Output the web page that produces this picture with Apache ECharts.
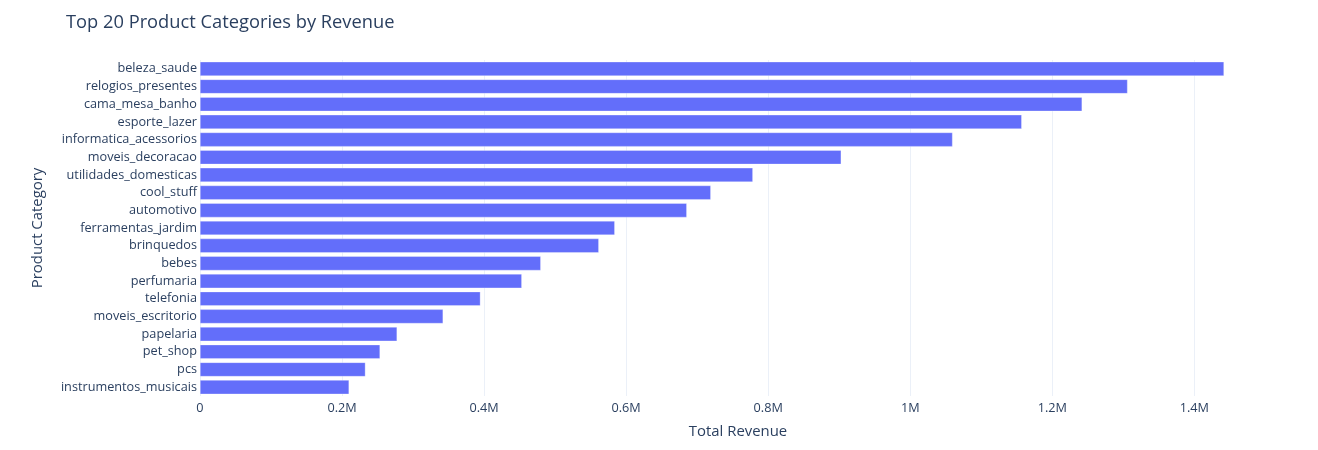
<!DOCTYPE html>
<html>
<head>
<meta charset="utf-8">
<script src="https://cdn.jsdelivr.net/npm/echarts@6/dist/echarts.min.js"></script>
<style>
  html, body { margin: 0; padding: 0; background: #fff; }
  #chart { width: 1318px; height: 450px; }
</style>
</head>
<body>
<div id="chart"></div>
<script>
// categories, top to bottom as shown
var categories = ['beleza_saude', 'relogios_presentes', 'cama_mesa_banho', 'esporte_lazer',
  'informatica_acessorios', 'moveis_decoracao', 'utilidades_domesticas', 'cool_stuff',
  'automotivo', 'ferramentas_jardim', 'brinquedos', 'bebes', 'perfumaria', 'telefonia',
  'moveis_escritorio', 'papelaria', 'pet_shop', 'pcs', 'instrumentos_musicais'];
// total revenue per category
var revenue = [1441800, 1306000, 1242000, 1157000, 1059600, 902800, 778400, 719200,
  685400, 584000, 561500, 479800, 453100, 394800, 342300, 277500, 253500, 232900, 209900];
// x axis ticks
var tickStep = 200000;
var axisMax = 1515000;

var chart = echarts.init(document.getElementById('chart'));
var font = '"Open Sans", verdana, arial, sans-serif';
var ink = '#2a3f5f';

option = {
  animation: false,
  title: {
    text: 'Top 20 Product Categories by Revenue',
    left: 66,
    top: 14,
    padding: 0,
    textStyle: { fontFamily: font, fontSize: 18.3, fontWeight: 'normal', color: ink }
  },
  grid: {
    left: 200,
    right: 42,
    top: 60,
    bottom: 54,
    containLabel: false
  },
  xAxis: {
    type: 'value',
    min: 0,
    max: axisMax,
    interval: tickStep,
    name: 'Total Revenue',
    nameLocation: 'middle',
    nameGap: 28,
    nameTextStyle: { fontFamily: font, fontSize: 14.9, color: ink },
    axisLine: { show: false },
    axisTick: { show: false },
    axisLabel: {
      fontFamily: font, fontSize: 12.7, color: ink, margin: 6,
      formatter: function (v) {
        if (v % tickStep !== 0) return '';
        if (v === 0) return '0';
        var m = v / 1e6;
        return (Math.round(m * 10) / 10) + 'M';
      }
    },
    splitLine: { show: true, showMaxLine: false, lineStyle: { color: '#EBF0F8', width: 1 } }
  },
  yAxis: {
    type: 'category',
    data: categories,
    inverse: true,
    name: 'Product Category',
    nameLocation: 'middle',
    nameGap: 155,
    nameTextStyle: { fontFamily: font, fontSize: 14.9, color: ink },
    axisLine: { show: false },
    axisTick: { show: false },
    axisLabel: { fontFamily: font, fontSize: 12.7, color: ink, margin: 3 },
    splitLine: { show: false }
  },
  series: [
    {
      type: 'bar',
      data: revenue,
      barCategoryGap: '20%',
      itemStyle: {
        color: '#636efa',
        borderColor: 'rgba(255,255,255,0.6)',
        borderWidth: 0.5
      }
    }
  ]
};
chart.setOption(option);
</script>
</body>
</html>
